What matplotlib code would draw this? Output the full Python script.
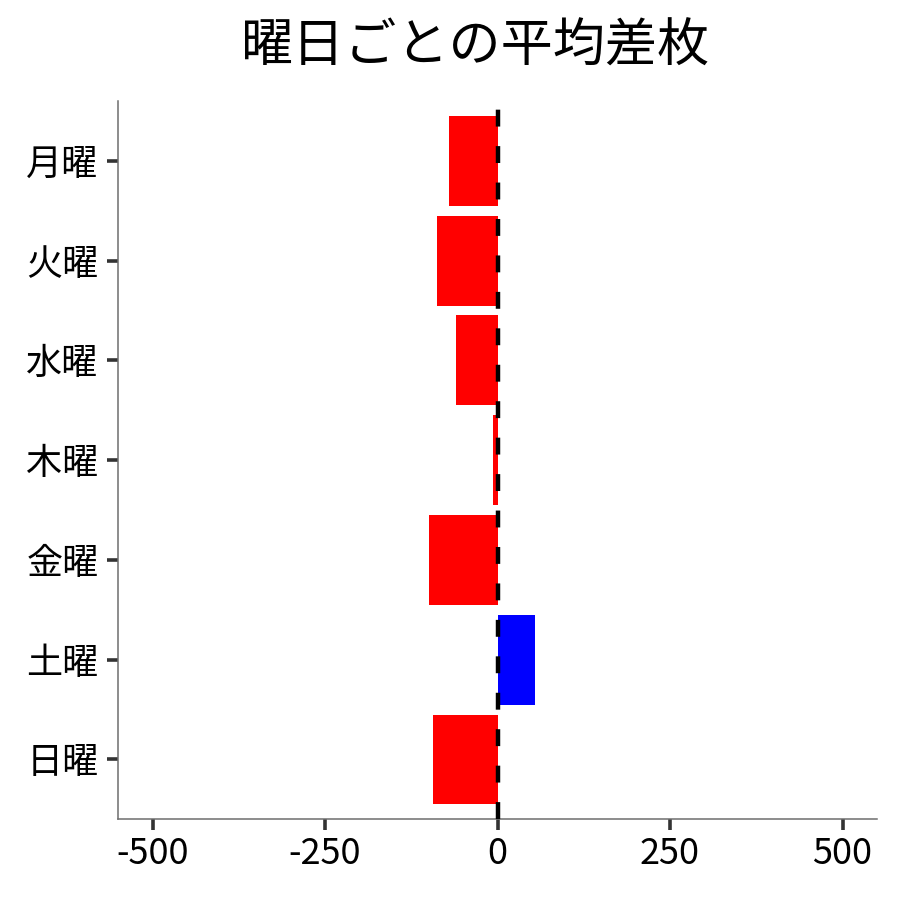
import matplotlib
matplotlib.use("Agg")
import matplotlib.pyplot as plt

plt.rcParams['font.family'] = ['Noto Sans CJK JP', 'DejaVu Sans']

days = ['月曜', '火曜', '水曜', '木曜', '金曜', '土曜', '日曜']
avg_diff = [-71, -88, -60, -6, -99, 55, -94]
xticks = [-500, -250, 0, 250, 500]
title = '曜日ごとの平均差枚'

colors = ['#0000FF' if v > 0 else '#FF0000' for v in avg_diff]

fig = plt.figure(figsize=(9, 9), dpi=100)
ax = fig.add_axes([118/900, 1 - 819.3/900, (877 - 118)/900, (819.3 - 101)/900])

ax.barh(days, avg_diff, height=0.9, color=colors, zorder=2)
ax.axvline(0, color='black', linewidth=3.2, linestyle=(0, (3.8, 4.4)), zorder=3)

ax.set_xlim(-550, 550)
ax.set_ylim(6.6, -0.6)
ax.set_xticks(xticks)
ax.set_xticklabels([str(t) for t in xticks])

for s in ['top', 'right']:
    ax.spines[s].set_visible(False)
for s in ['left', 'bottom']:
    ax.spines[s].set_color('#6e6e6e')
    ax.spines[s].set_linewidth(1.1)

ax.tick_params(axis='both', colors='#333333', length=8, width=2.6,
               labelcolor='black', labelsize=26)
ax.tick_params(axis='y', pad=6)
ax.tick_params(axis='x', pad=4)

fig.text(476/900, 1 - 47/900, title, ha='center', va='center', fontsize=37.5, color='black')

fig.savefig('out.png', dpi=100)
